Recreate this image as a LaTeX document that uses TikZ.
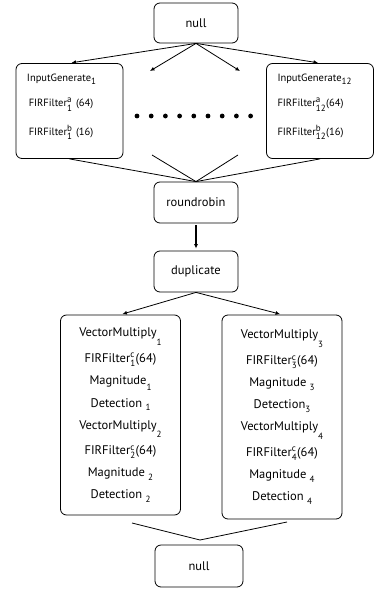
\documentclass[tikz,border=0pt]{standalone}
\usepackage{amsmath}
\usepackage{fontspec}
\setmainfont{PT Sans}
\usetikzlibrary{arrows.meta, positioning}

\newcommand{\idxfont}{\fontsize{9}{10}\selectfont}
\newcommand{\lowidx}[2][0.5ex]{\raisebox{-#1}{\idxfont #2}}
\newcommand{\supsub}[2]{\ensuremath{^{\hbox{\idxfont #1}}_{\hbox{\idxfont #2}}}}

\begin{document}
\begin{tikzpicture}[
    x=1pt, y=-1pt,
    >={Latex[length=4.5pt,width=4pt]},
    box/.style={rectangle, rounded corners=6pt, draw=black, line width=0.8pt, fill=white, align=center, font=\fontsize{12.5}{15}\selectfont},
    grp/.style={box, minimum width=107pt, minimum height=88pt, text width=85pt, inner sep=11pt, align=left, font=\fontsize{10.5}{12}\selectfont},
    tall/.style={box, minimum width=120pt, minimum height=200pt, inner sep=2pt},
    link/.style={line width=0.8pt}
  ]
    \useasboundingbox (0,0) rectangle (373,589);

    \node[box, minimum width=84pt, minimum height=40pt] (top) at (196,23) {null};
    \node[grp] (gl) at (69.5,111) {InputGenerate\lowidx[0.5ex]{1}\\[13pt]
      \,FIRFilter\supsub{a}{1} (64)\\[13pt]
      \,FIRFilter\supsub{b}{1} (16)\rule[-12pt]{0pt}{12pt}};
    \node[grp] (gr) at (320,111) {InputGenerate\lowidx[0.5ex]{12}\\[13pt]
      FIRFilter\supsub{a}{12}(64)\\[13pt]
      FIRFilter\supsub{b}{12}(16)\rule[-12pt]{0pt}{12pt}};
    \foreach \i in {0,...,8}
      \fill (137+\i*14.2,116) circle (2.4pt);

    \node[box, minimum width=84pt, minimum height=41pt] (rr) at (196,202.5) {roundrobin};
    \node[box, minimum width=84pt, minimum height=41pt] (dup) at (196,271.5) {duplicate};

    \node[tall] (vl) at (120.5,415) {VectorMultiply\lowidx[1.4ex]{1}\\[7pt]
      FIRFilter\supsub{c}{1}(64)\\[7pt]
      Magnitude\lowidx[1ex]{1}\\[7pt]
      Detection \lowidx[0.6ex]{1}\\[7pt]
      VectorMultiply\lowidx[1.4ex]{2}\\[7pt]
      FIRFilter\supsub{c}{2}(64)\\[7pt]
      Magnitude \lowidx[0.6ex]{2}\\[7pt]
      Detection \lowidx[0.6ex]{2}};
    \node[tall, minimum height=204pt] (vr) at (282,417) {VectorMultiply\lowidx[1.4ex]{3}\\[7pt]
      FIRFilter\supsub{c}{3}(64)\\[7pt]
      Magnitude \lowidx[0.6ex]{3}\\[7pt]
      Detection\lowidx[0.6ex]{3}\\[7pt]
      VectorMultiply\lowidx[1.4ex]{4}\\[7pt]
      FIRFilter\supsub{c}{4}(64)\\[7pt]
      Magnitude \lowidx[0.6ex]{4}\\[7pt]
      Detection \lowidx[0.6ex]{4}};

    \node[box, minimum width=88pt, minimum height=42pt] (bot) at (199,566) {null};

    % split and join points
    \coordinate (sl) at (150,71);
    \coordinate (sr) at (240,71);
    \coordinate (ml) at (152,155);
    \coordinate (mr) at (238,155);
    \coordinate (jl) at (132,523);
    \coordinate (jr) at (287,522);
    \coordinate (jn) at (200,540);

    \draw[->, link, shorten >=2pt] (top.south) -- (gl.north);
    \draw[->, link] (top.south) -- (sl);
    \draw[->, link] (top.south) -- (sr);
    \draw[->, link, shorten >=2pt] (top.south) -- (gr.north);

    \draw[link] (gl.south) -- (rr.north) -- (gr.south);
    \draw[link] (ml) -- (rr.north) -- (mr);

    \draw[->, line width=1.1pt, shorten <=2pt, shorten >=2pt] (rr.south) -- (dup.north);

    \draw[->, link, shorten >=2pt] (dup.south) -- (vl.north);
    \draw[->, link, shorten >=2pt] (dup.south) -- (vr.north);

    \draw[link] (jl) -- (jn) -- (jr);
  \end{tikzpicture}
\end{document}
